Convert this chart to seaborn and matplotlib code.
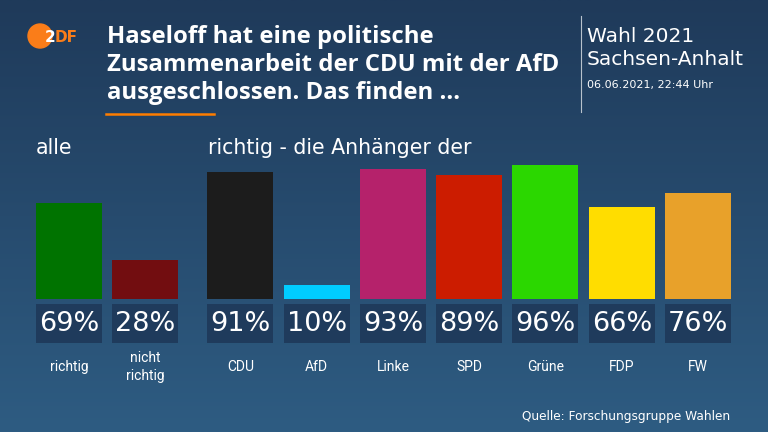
import matplotlib
matplotlib.use("Agg")
import matplotlib.pyplot as plt
import seaborn as sns
import pandas as pd
import numpy as np
from matplotlib.patches import Rectangle, Ellipse
from matplotlib.colors import LinearSegmentedColormap

# data
alle_labels = ["richtig", "nicht\nrichtig"]
alle_values = [69, 28]
alle_colors = ["#007300", "#720d10"]

partei_labels = ["CDU", "AfD", "Linke", "SPD", "Grüne", "FDP", "FW"]
partei_values = [91, 10, 93, 89, 96, 66, 76]
partei_colors = ["#1c1c1c", "#00ccff", "#b5226b", "#cc1c00", "#2bd700", "#ffdd00", "#e8a12a"]

title_lines = ["Haseloff hat eine politische",
               "Zusammenarbeit der CDU mit der AfD",
               "ausgeschlossen. Das finden ..."]
group_titles = ["alle", "richtig - die Anhänger der"]
source = "Quelle: Forschungsgruppe Wahlen"

W, H = 768, 432
fig = plt.figure(figsize=(W / 100, H / 100), dpi=100)


def px(x, y):
    # pixel coords (from top left) -> figure fraction
    return x / W, 1 - y / H


# background gradient
bg = fig.add_axes([0, 0, 1, 1], zorder=0)
cmap = LinearSegmentedColormap.from_list("bg", ["#1f3a5a", "#2e5c82"])
bg.imshow(np.linspace(0, 1, 256).reshape(-1, 1), aspect="auto", cmap=cmap, extent=[0, 1, 0, 1])
bg.axis("off")

# bar data
n_alle = len(alle_labels)
df = pd.DataFrame({
    "label": alle_labels + partei_labels,
    "value": alle_values + partei_values,
    "color": alle_colors + partei_colors,
})
gap = 0.245
df["x"] = [i if i < n_alle else i + gap for i in range(len(df))]

slot, x0 = 76.3, 69  # pixel width of a slot and pixel centre of first bar
base, scale = 299, 1.395  # baseline pixel and pixels per percent
bw = 0.865

ax = fig.add_axes([0, 0, 1, 1], zorder=1)
ax.set_facecolor("none")
sns.barplot(data=df, x="x", y="value", hue="label", palette=dict(zip(df["label"], df["color"])),
            native_scale=True, dodge=False, width=bw, saturation=1, legend=False, linewidth=0, ax=ax)
ax.set_xlim(-x0 / slot, (W - x0) / slot)
ax.set_ylim(-(H - base) / scale, base / scale)
ax.axis("off")


def ypx(y):
    return (base - y) / scale


# value boxes and category labels
for xi, val, lab in zip(df["x"], df["value"], df["label"]):
    ax.add_patch(Rectangle((xi - bw / 2, ypx(343)), bw, ypx(304) - ypx(343),
                           facecolor="#1f3b5c", edgecolor="none", zorder=3))
    ax.text(xi, ypx(324), f"{val}%", ha="center", va="center", color="white",
            fontsize=19.5, family="DejaVu Sans", zorder=4)
    ax.text(xi, ypx(367), lab, ha="center", va="center", color="white",
            fontsize=10, family="Roboto", linespacing=1.3, zorder=4)

# group titles
fig.text(*px(36, 154), group_titles[0], color="white", fontsize=14.8, family="DejaVu Sans", va="baseline")
fig.text(*px(208, 154), group_titles[1], color="white", fontsize=14.8, family="DejaVu Sans", va="baseline")

# header
for i, line in enumerate(title_lines):
    fig.text(*px(107, 43 + i * 28), line, color="white", fontsize=17.2, fontweight="bold",
             family="Open Sans", va="baseline")
fig.add_artist(plt.Line2D([106 / W, 214 / W], [1 - 114 / H] * 2, color="#ff7d00", lw=1.8))

# ZDF logo
fig.add_artist(Ellipse(px(40, 36), 24 / W, 24 / H, transform=fig.transFigure, color="#fa7d19"))
fig.text(*px(45, 42), "2", color="white", fontsize=11, fontweight="bold", family="DejaVu Sans", va="baseline")
fig.text(*px(55, 42), "DF", color="#fa7d19", fontsize=11, fontweight="bold", family="DejaVu Sans", va="baseline")

fig.add_artist(plt.Line2D([581 / W] * 2, [1 - 16 / H, 1 - 112 / H], color="#b8c2cc", lw=0.8))
fig.text(*px(587, 42), "Wahl 2021", color="white", fontsize=14.5, family="DejaVu Sans", va="baseline")
fig.text(*px(587, 65), "Sachsen-Anhalt", color="white", fontsize=14.5, family="DejaVu Sans", va="baseline")
fig.text(*px(587, 88), "06.06.2021, 22:44 Uhr", color="white", fontsize=8, family="DejaVu Sans", va="baseline")

fig.text(*px(730, 420), source, color="white", fontsize=8.7, family="DejaVu Sans", ha="right", va="baseline")

fig.savefig("out.png", dpi=100)
